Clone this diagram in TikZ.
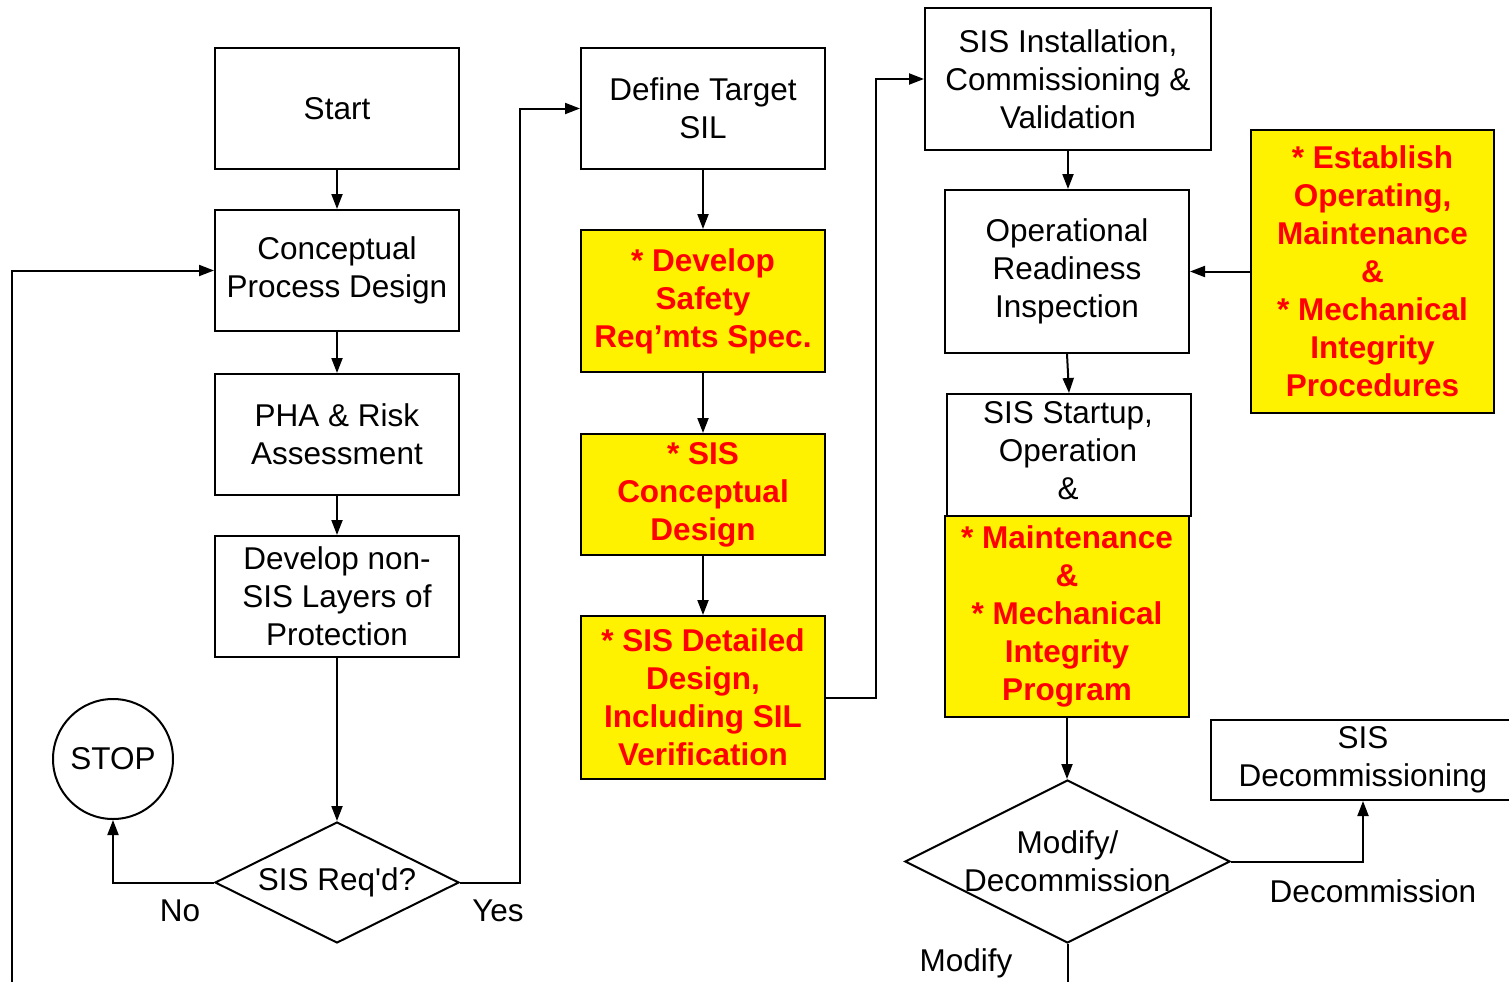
\documentclass[tikz,border=0pt]{standalone}
\usepackage{fontspec}
\setmainfont{Liberation Sans}[Ligatures=TeXOff]
\usetikzlibrary{shapes.geometric,arrows.meta}
\begin{document}
\begin{tikzpicture}[x=1pt,y=-1pt,
  every node/.style={font=\fontsize{31.5}{38}\selectfont, align=center, inner sep=0pt},
  box/.style={draw, line width=2pt, rectangle},
  hl/.style={box, fill=yellow, text=red, font=\fontsize{31.5}{38}\selectfont\bfseries},
  dec/.style={draw, line width=2pt, diamond},
  arr/.style={line width=2pt, -{Triangle[length=15pt,width=11pt]}},
  ln/.style={line width=2pt}]
\useasboundingbox (0,0) rectangle (1509,982);

% left column
\node[box, minimum width=244pt, minimum height=121pt] (st)  at (337,108.5) {Start};
\node[box, minimum width=244pt, minimum height=121pt] (cpd) at (337,270.5) {Conceptual\\Process Design};
\node[box, minimum width=244pt, minimum height=121pt] (pha) at (337,434.5) {PHA \& Risk\\Assessment};
\node[box, minimum width=244pt, minimum height=121pt] (dnl) at (337,596.5) {Develop non-\\SIS Layers of\\Protection};
\node[dec, minimum width=244pt, minimum height=121pt] (sr)  at (337,882.5) {};
\node at (sr) {SIS Req'd?};
\node[draw, line width=2pt, circle, minimum size=120pt] (stop) at (113,759) {STOP};

% middle column
\node[box, minimum width=244pt, minimum height=121pt] (dts) at (703,108.5) {Define Target\\SIL};
\node[hl, minimum width=244pt, minimum height=142pt] (srs) at (703,301) {* Develop\\Safety\\Req’mts Spec.};
\node[hl, minimum width=244pt, minimum height=121pt] (scd) at (703,494.5) {* SIS\\Conceptual\\Design};
\node[hl, minimum width=244pt, minimum height=163pt] (sdd) at (703,697.5) {* SIS Detailed\\Design,\\Including SIL\\Verification};

% right column
\node[box, minimum width=286pt, minimum height=142pt] (inst) at (1068,79) {SIS Installation,\\Commissioning \&\\Validation};
\node[box, minimum width=244pt, minimum height=163pt] (ori) at (1067,271.5) {Operational\\Readiness\\Inspection};
\node[hl, minimum width=243pt, minimum height=283pt] (est) at (1372.5,271.5) {* Establish\\Operating,\\Maintenance\\\&\\* Mechanical\\Integrity\\Procedures};
\node[box, minimum width=244pt, minimum height=122pt] (su) at (1069,455) {};
\node at (1068,451) {SIS Startup,\\Operation\\\&};
\node[hl, minimum width=244pt, minimum height=201pt] (mip) at (1067,616.5) {* Maintenance\\\&\\* Mechanical\\Integrity\\Program};
\node[dec, minimum width=325pt, minimum height=163pt] (md) at (1067.5,861.5) {};
\node at (md) {Modify/\\Decommission};
\node[box, minimum width=304pt, minimum height=80pt] (dcb) at (1363,760) {SIS\\Decommissioning};

% branch labels
\node (no)  at (180,911) {No};
\node (yes) at (498,911) {Yes};
\node (dl)  at (1373,891) {Decommission};
\node (ml)  at (966,963) {Modify};

% loose ends running off the lower edge
\coordinate (loop) at (12,982);
\coordinate (mdout) at (1067.5,982);

% connectors
\draw[arr] (st.south) -- (cpd.north);
\draw[arr] (cpd.south) -- (pha.north);
\draw[arr] (pha.south) -- (dnl.north);
\draw[arr] (dnl.south) -- (sr.north);
\draw[arr] (sr.west) -| (stop.south);
\draw[arr] (sr.east) -- ++(60,0) |- (dts.west);
\draw[arr] (dts.south) -- (srs.north);
\draw[arr] (srs.south) -- (scd.north);
\draw[arr] (scd.south) -- (sdd.north);
\draw[arr] (sdd.east) -- ++(50,0) |- (inst.west);
\draw[arr] (inst.south) -- (inst.south |- ori.north);
\draw[arr] (est.west) -- (ori.east);
\draw[arr] (ori.south) -- (su.north);
\draw[arr] (mip.south) -- (mip.south |- md.north);
\draw[arr] (md.east) -| (dcb.south);
\draw[arr] (loop) |- (cpd.west);
\draw[ln] (md.south) -- (mdout);
\end{tikzpicture}
\end{document}
